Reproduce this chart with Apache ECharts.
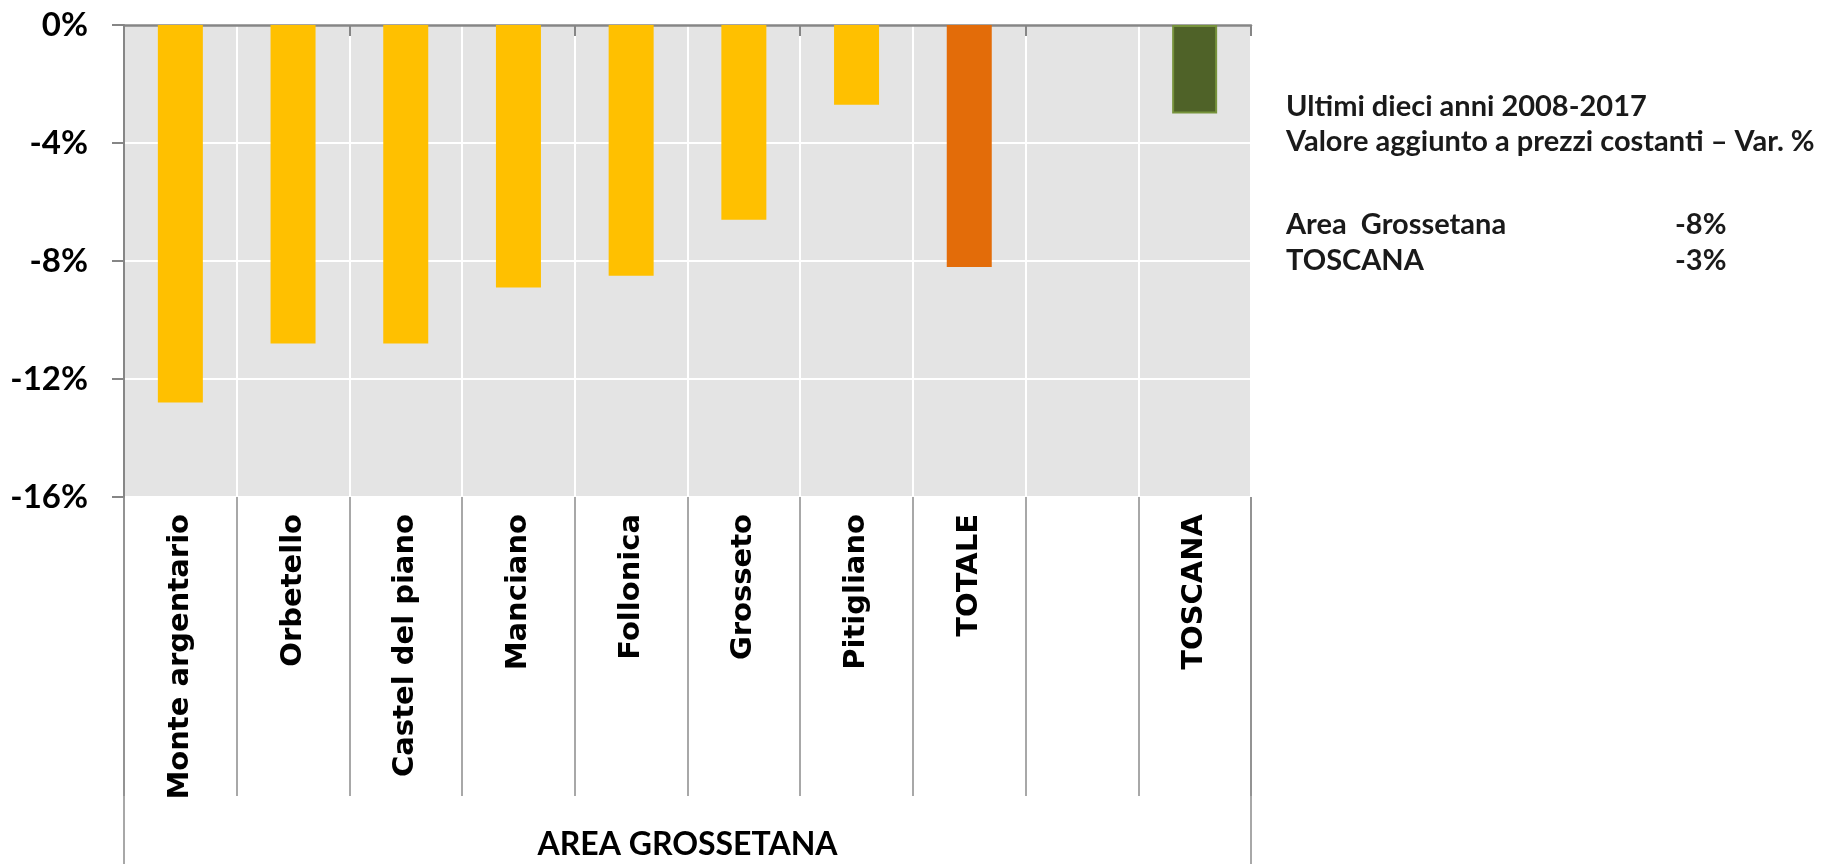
<!DOCTYPE html>
<html>
<head>
<meta charset="utf-8">
<script src="https://cdn.jsdelivr.net/npm/echarts@6/dist/echarts.min.js"></script>
<style>
  html, body { margin: 0; padding: 0; background: #fff; }
  #main { width: 1833px; height: 864px; }
</style>
</head>
<body>
<div id="main"></div>
<script>
var categories = ['Monte argentario', 'Orbetello', 'Castel del piano', 'Manciano', 'Follonica',
                  'Grosseto', 'Pitigliano', 'TOTALE', '', 'TOSCANA'];
var values = [-12.8, -10.8, -10.8, -8.9, -8.5, -6.6, -2.7, -8.2, null, -3.0];
var barColors = ['#FFC000', '#FFC000', '#FFC000', '#FFC000', '#FFC000',
                 '#FFC000', '#FFC000', '#E36C09', '#FFC000', '#4F6228'];
var groupLabel = ['AREA GROSSETANA'];
var yTicks = { min: -16, max: 0, step: 4 };
var noteTitle = ['Ultimi dieci anni 2008-2017', 'Valore aggiunto a prezzi costanti \u2013 Var. %'];
var noteRows = [['Area  Grossetana', '-8%'], ['TOSCANA', '-3%']];

var myChart = echarts.init(document.getElementById('main'));

var barData = values.map(function (v, i) {
  var item = { value: v, itemStyle: { color: barColors[i] } };
  if (categories[i] === 'TOSCANA') {
    item.itemStyle.borderColor = '#77933C';
    item.itemStyle.borderWidth = 2;
  }
  return item;
});

var noteFont = 'bold 29px Lato';
var graphics = [];
noteTitle.forEach(function (t, i) {
  graphics.push({
    type: 'text', left: 1286, top: 92 + i * 35,
    style: { text: t, font: noteFont, fill: '#1a1a1a' }
  });
});
noteRows.forEach(function (r, i) {
  graphics.push({
    type: 'text', left: 1286, top: 210 + i * 36,
    style: { text: r[0], font: noteFont, fill: '#1a1a1a' }
  });
  graphics.push({
    type: 'text', left: 1675, top: 210 + i * 36,
    style: { text: r[1], font: noteFont, fill: '#1a1a1a' }
  });
});

var gridBox = { left: 124, right: 582, top: 25, bottom: 367 };

var option = {
  animation: false,
  backgroundColor: '#fff',
  grid: [{
    left: gridBox.left, right: gridBox.right, top: gridBox.top, bottom: gridBox.bottom,
    show: true, backgroundColor: '#E4E4E4', borderWidth: 0
  }, {
    left: gridBox.left, right: gridBox.right, top: gridBox.top, bottom: gridBox.bottom,
    show: false
  }],
  xAxis: [{
    gridIndex: 0,
    type: 'category',
    data: categories,
    position: 'bottom',
    boundaryGap: true,
    axisLine: { show: false, onZero: false },
    axisTick: { show: true, length: 299, lineStyle: { color: '#8C8C8C', width: 1.5 } },
    axisLabel: {
      rotate: 90, margin: 17, interval: 0,
      fontFamily: 'DejaVu Sans', fontWeight: 'bold', fontSize: 29, color: '#000'
    },
    splitLine: { show: true, lineStyle: { color: '#fff', width: 2 } }
  }, {
    gridIndex: 0,
    type: 'category',
    data: categories,
    position: 'top',
    boundaryGap: true,
    axisLine: { show: true, onZero: false, lineStyle: { color: '#868686', width: 2.5 } },
    axisTick: { show: true, inside: true, length: 11, lineStyle: { color: '#868686', width: 2 } },
    axisLabel: { show: false },
    splitLine: { show: false }
  }, {
    gridIndex: 1,
    type: 'category',
    data: groupLabel,
    position: 'bottom',
    boundaryGap: true,
    axisLine: { show: false, onZero: false },
    axisTick: { show: true, length: 367, lineStyle: { color: '#8C8C8C', width: 1.5 } },
    axisLabel: {
      margin: 332, fontFamily: 'Lato', fontWeight: 'bold', fontSize: 32, color: '#000'
    },
    splitLine: { show: false }
  }],
  yAxis: [{
    gridIndex: 0,
    type: 'value',
    min: yTicks.min, max: yTicks.max, interval: yTicks.step,
    axisLine: { show: true, lineStyle: { color: '#868686', width: 2 } },
    axisTick: { show: true, length: 12, lineStyle: { color: '#868686', width: 2 } },
    axisLabel: {
      formatter: '{value}%', margin: 36,
      fontFamily: 'Lato', fontWeight: 'bold', fontSize: 33, color: '#000'
    },
    splitLine: { show: true, lineStyle: { color: '#fff', width: 2 } }
  }, {
    gridIndex: 1,
    type: 'value',
    min: yTicks.min, max: yTicks.max,
    show: false
  }],
  series: [{
    type: 'bar',
    xAxisIndex: 0,
    yAxisIndex: 0,
    barWidth: 45,
    data: barData
  }],
  graphic: graphics
};

myChart.setOption(option);
</script>
</body>
</html>
